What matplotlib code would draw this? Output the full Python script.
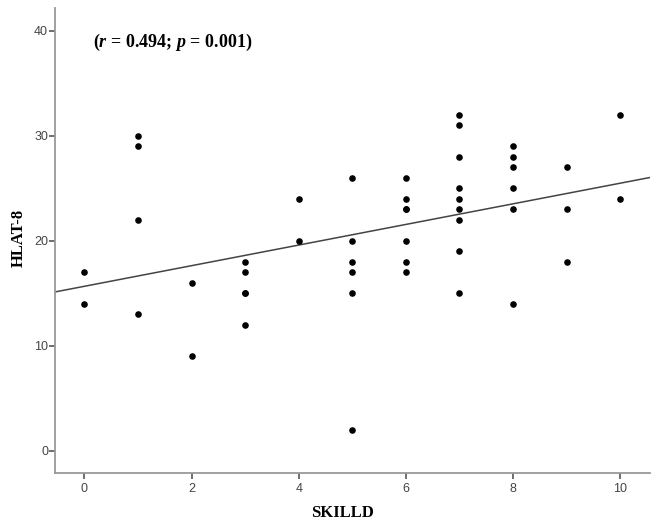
import numpy as np
import matplotlib
matplotlib.use("Agg")
from matplotlib import pyplot as plt

plt.rcParams['mathtext.fontset'] = 'custom'
plt.rcParams['mathtext.it'] = 'Liberation Serif:italic:bold'
plt.rcParams['mathtext.rm'] = 'Liberation Serif:bold'

# SKILLD score and HLAT-8 score for each respondent
skilld = [0, 0,
          1, 1, 1, 1,
          2, 2,
          3, 3, 3, 3, 3,
          4, 4,
          5, 5, 5, 5, 5, 5,
          6, 6, 6, 6, 6, 6, 6,
          7, 7, 7, 7, 7, 7, 7, 7, 7,
          8, 8, 8, 8, 8, 8,
          9, 9, 9,
          10, 10]
hlat8 = [17, 14,
         30, 29, 22, 13,
         16, 9,
         18, 17, 15, 15, 12,
         24, 20,
         26, 20, 18, 17, 15, 2,
         26, 24, 23, 23, 20, 18, 17,
         32, 31, 28, 25, 24, 23, 22, 19, 15,
         29, 28, 27, 25, 23, 14,
         27, 23, 18,
         32, 24]
x_ticks = [0, 2, 4, 6, 8, 10]
y_ticks = [0, 10, 20, 30, 40]

fig = plt.figure(figsize=(6.57, 5.22), dpi=100)
ax = fig.add_axes([0.0837, 0.0939, 0.905, 0.891])

ax.scatter(skilld, hlat8, s=14, color="black", zorder=3)

# linear fit across the whole axis
xlim = (-0.55, 10.55)
slope, intercept = np.polyfit(skilld, hlat8, 1)
xs = np.array(xlim)
ax.plot(xs, intercept + slope * xs, color="#444444", linewidth=1.1)

ax.set_xlim(xlim)
ax.set_ylim(-2.1, 42.2)
ax.set_xticks(x_ticks)
ax.set_yticks(y_ticks)

ax.spines['top'].set_visible(False)
ax.spines['right'].set_visible(False)
for side in ['left', 'bottom']:
    ax.spines[side].set_color("#999999")
    ax.spines[side].set_linewidth(1.3)
ax.tick_params(direction="out", length=4, width=1.2, color="#555555",
               labelsize=9, labelcolor="#444444")
ax.tick_params(axis="y", pad=1)
ax.tick_params(axis="x", pad=3)
for lab in ax.get_xticklabels() + ax.get_yticklabels():
    lab.set_family("Liberation Sans")

ax.set_xlabel("SKILLD", family="Liberation Serif", fontweight="bold",
              fontsize=12, va="baseline")
ax.set_ylabel("HLAT-8", family="Liberation Serif", fontweight="bold", fontsize=12)
ax.xaxis.set_label_coords(0.483, -0.095)
ax.yaxis.set_label_coords(-0.047, 0.505)

ax.text(0.064, 0.925, "($r$ = 0.494; $p$ = 0.001)", transform=ax.transAxes,
        family="Liberation Serif", fontweight="bold", fontsize=13, va="center")

fig.savefig("out.png", dpi=100)
